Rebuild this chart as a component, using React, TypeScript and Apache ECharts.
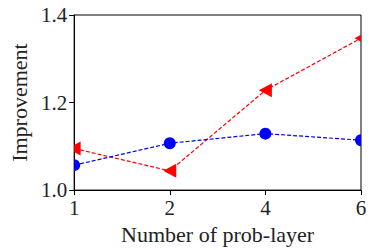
import React, { useEffect, useRef } from "react";
import * as echarts from "echarts";

const categories = ["1", "2", "4", "6"];
const redValues = [1.095, 1.044, 1.228, 1.347];
const blueValues = [1.057, 1.107, 1.129, 1.114];
const yTicks = { min: 1.0, max: 1.4, interval: 0.2 };

const FONT = "Liberation Serif";

const markerSeries = (values: number[], color: string, kind: "tri" | "circle") => ({
  type: "custom",
  data: values.map((v, i) => [i, v]),
  encode: { x: 0, y: 1 },
  z: kind === "circle" ? 6 : 5,
  clip: false,
  renderItem: (params: any, api: any) => {
    const p = api.coord([api.value(0), api.value(1)]);
    const cs = params.coordSys;
    const clipPath = { type: "rect", shape: { x: cs.x, y: cs.y, width: cs.width, height: cs.height } };
    if (kind === "circle") {
      return {
        type: "circle",
        shape: { cx: p[0], cy: p[1], r: 6 },
        style: { fill: color },
        clipPath,
      };
    }
    return {
      type: "polygon",
      shape: {
        points: [
          [p[0] - 6.5, p[1]],
          [p[0] + 6.5, p[1] - 7],
          [p[0] + 6.5, p[1] + 7],
        ],
      },
      style: { fill: color },
      clipPath,
    };
  },
});

export default function App() {
  const ref = useRef<HTMLDivElement>(null);
  useEffect(() => {
    if (!ref.current) return;
    const chart = echarts.init(ref.current, null, { renderer: "svg" });
    chart.setOption({
      animation: false,
      backgroundColor: "#fff",
      grid: {
        left: 65,
        top: 15,
        right: 13,
        bottom: 59,
        show: true,
        borderColor: "#000",
        borderWidth: 1,
        backgroundColor: "transparent",
      },
      xAxis: {
        type: "category",
        data: categories,
        boundaryGap: false,
        name: "Number of prob-layer",
        nameLocation: "middle",
        nameGap: 27,
        nameTextStyle: { fontFamily: FONT, fontSize: 22, color: "#222" },
        axisLine: { lineStyle: { color: "#000", width: 1 } },
        axisTick: { show: true, length: 5, lineStyle: { color: "#000" }, alignWithLabel: true },
        axisLabel: { fontFamily: FONT, fontSize: 21, color: "#222", margin: 7 },
        splitLine: { show: false },
      },
      yAxis: {
        type: "value",
        min: yTicks.min,
        max: yTicks.max,
        interval: yTicks.interval,
        name: "Improvement",
        nameLocation: "middle",
        nameGap: 40,
        nameTextStyle: { fontFamily: FONT, fontSize: 22, color: "#222" },
        axisLine: { show: true, lineStyle: { color: "#000", width: 1 } },
        axisTick: { show: true, length: 5, lineStyle: { color: "#000" } },
        axisLabel: {
          fontFamily: FONT,
          fontSize: 21,
          color: "#222",
          margin: 7,
          formatter: (v: number) => v.toFixed(1),
        },
        splitLine: { show: false },
      },
      series: [
        {
          type: "line",
          data: redValues,
          symbol: "none",
          lineStyle: { color: "#ff0000", width: 1.2, type: [4, 2] },
          z: 3,
        },
        {
          type: "line",
          data: blueValues,
          symbol: "none",
          lineStyle: { color: "#0000ff", width: 1.2, type: [4, 2] },
          z: 4,
        },
        markerSeries(redValues, "#ff0000", "tri"),
        markerSeries(blueValues, "#0000ff", "circle"),
      ],
    });
    return () => chart.dispose();
  }, []);
  return (
    <div
      ref={ref}
      style={{ position: "fixed", left: 0, top: 0, width: 374, height: 250 }}
    />
  );
}
